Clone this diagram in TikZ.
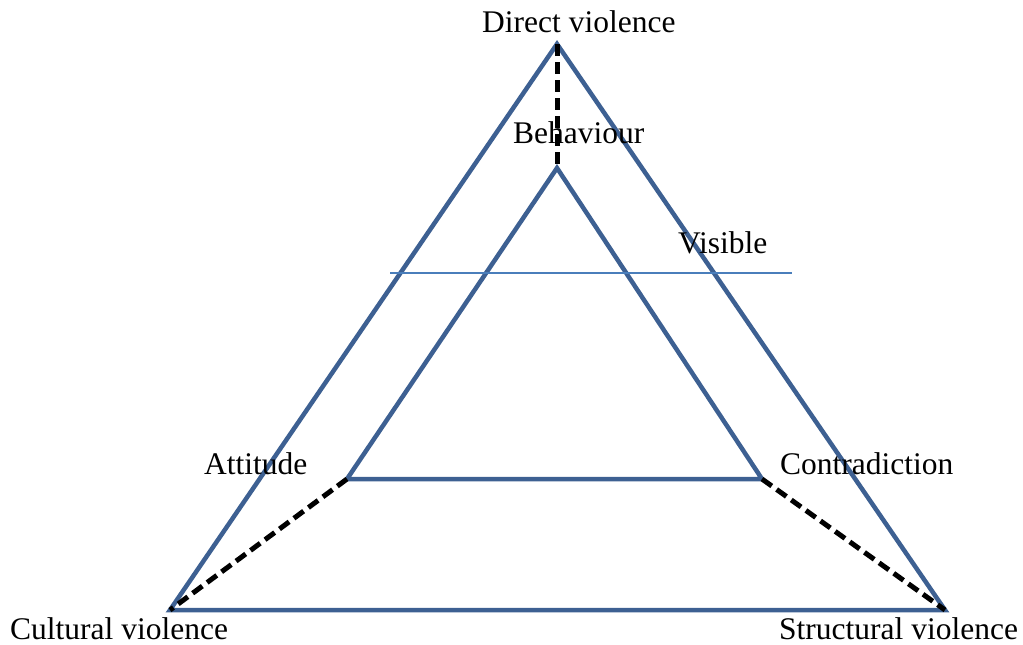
\documentclass[tikz,border=0pt]{standalone}
\usepackage{fontspec}
\setmainfont{Liberation Serif}
\definecolor{edgeblue}{RGB}{61,96,146}
\definecolor{lineblue}{RGB}{74,126,187}
\begin{document}
\begin{tikzpicture}[x=1pt,y=-1pt,
  tri/.style={draw=edgeblue,line width=4.5pt,line join=miter},
  link/.style={draw=black,line width=5pt,dash pattern=on 12pt off 6pt},
  divider/.style={draw=lineblue,line width=1.5pt},
  lbl/.style={anchor=base west,inner sep=0pt,font=\fontsize{31.5}{36}\selectfont}]
\useasboundingbox (0,0) rectangle (1023,645);
% outer triangle
\coordinate (DV) at (557,44);
\coordinate (CV) at (170,610);
\coordinate (SV) at (945,610);
% inner triangle
\coordinate (B) at (557,168);
\coordinate (A) at (347,479);
\coordinate (C) at (762,479);
% visibility line
\coordinate (vl) at (390,273);
\coordinate (vr) at (792,273);

\draw[tri] (DV) -- (CV) -- (SV) -- cycle;
\draw[tri] (B) -- (A) -- (C) -- cycle;
\draw[divider] (vl) -- (vr);
\draw[link] (DV) -- (B);
\draw[link] (A) -- (CV);
\draw[link] (C) -- (SV);

\node[lbl] (tdv) at (482,32) {Direct violence};
\node[lbl] (tb) at (513,143) {Behaviour};
\node[lbl] (tv) at (678,253) {Visible};
\node[lbl] (ta) at (204,474) {Attitude};
\node[lbl] (tc) at (780,474) {Contradiction};
\node[lbl] (tcv) at (10,639) {Cultural violence};
\node[lbl] (tsv) at (779,639) {Structural violence};
\end{tikzpicture}
\end{document}
